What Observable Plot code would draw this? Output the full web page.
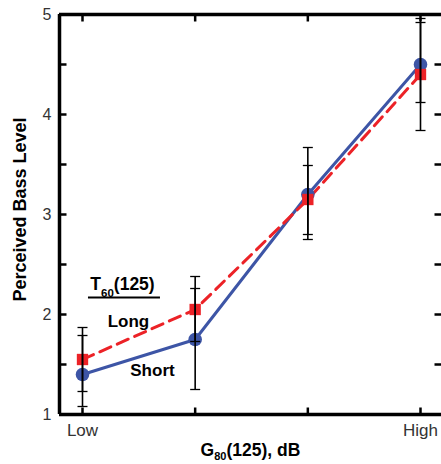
<!DOCTYPE html>
<html><head><meta charset="utf-8">
<script src="https://cdn.jsdelivr.net/npm/d3@7"></script>
<script src="https://cdn.jsdelivr.net/npm/@observablehq/plot@0.6"></script>
<style>
body{margin:0;background:#fff}
#chart svg{font-family:"Liberation Sans",Arial,Helvetica,sans-serif;}
</style>
</head><body><div id="chart"></div>
<script>
// categories (G80(125) level) and labels
const levels = [1, 2, 3, 4];
const xTickLabels = ["Low", "", "", "High"];
// Short T60(125)
const shortMean = [1.40, 1.75, 3.20, 4.50];
const shortLo   = [1.08, 1.25, 2.75, 4.12];
const shortHi   = [1.79, 2.26, 3.67, 4.92];
// Long T60(125)
const longMean = [1.55, 2.05, 3.15, 4.40];
const longLo   = [1.23, 1.73, 2.80, 3.84];
const longHi   = [1.87, 2.38, 3.49, 4.96];
// y ticks
const yMinorTicks = [1, 1.5, 2, 2.5, 3, 3.5, 4, 4.5, 5];
const yTickLabels = [1, 2, 3, 4, 5];

const shortData = levels.map((x, i) => ({x, y: shortMean[i], lo: shortLo[i], hi: shortHi[i]}));
const longData = levels.map((x, i) => ({x, y: longMean[i], lo: longLo[i], hi: longHi[i]}));
const errData = [...shortData, ...longData];
const caps = errData.flatMap(d => [{x: d.x, y: d.lo}, {x: d.x, y: d.hi}]);

const xmin = 1 - 23 / 112.67, xmax = 4 + 21 / 112.67;
const blue = "#3d55a6", red = "#ec2227";

const tickSym = (dx, dy) => ({draw(ctx, size) { const l = Math.sqrt(size / Math.PI); ctx.moveTo(0, 0); ctx.lineTo(dx * l, dy * l); }});
const capSym = {draw(ctx, size) { const l = Math.sqrt(size / Math.PI); ctx.moveTo(-l, 0); ctx.lineTo(l, 0); }};

const chart = Plot.plot({
  width: 441, height: 464,
  marginLeft: 59, marginRight: 0, marginTop: 14, marginBottom: 50,
  x: {domain: [xmin, xmax], label: null},
  y: {domain: [1, 5], label: null},
  style: {background: "white", fontFamily: "Liberation Sans, Arial, sans-serif"},
  marks: [
    Plot.axisY(yTickLabels, {tickSize: 0, tickPadding: 8, fontSize: 16, color: "#333", label: null,
      tickFormat: d => String(d)}),
    Plot.axisX(levels, {tickSize: 0, tickPadding: 9, fontSize: 17, color: "#333", label: null,
      tickFormat: d => xTickLabels[levels.indexOf(d)]}),
    // inward ticks
    Plot.dot(yMinorTicks, {x: xmin, y: d => d, r: 7, symbol: tickSym(1, 0), fill: "none", stroke: "black", strokeWidth: 2.5}),
    Plot.dot(yMinorTicks, {x: xmax, y: d => d, r: 7, symbol: tickSym(-1, 0), fill: "none", stroke: "black", strokeWidth: 2.5}),
    Plot.dot(levels, {x: d => d, y: 1, r: 7, symbol: tickSym(0, -1), fill: "none", stroke: "black", strokeWidth: 2.5}),
    Plot.dot(levels, {x: d => d, y: 5, r: 7, symbol: tickSym(0, 1), fill: "none", stroke: "black", strokeWidth: 2.5}),
    // frame
    Plot.ruleX([xmin], {stroke: "black", strokeWidth: 3.5}),
    Plot.ruleY([1, 5], {stroke: "black", strokeWidth: 3.5}),
    // series lines
    Plot.line(shortData, {x: "x", y: "y", stroke: blue, strokeWidth: 3}),
    Plot.line(longData, {x: "x", y: "y", stroke: red, strokeWidth: 3, strokeDasharray: "12,7"}),
    Plot.dot(shortData, {x: "x", y: "y", r: 6.8, fill: blue, stroke: "none"}),
    Plot.dot(longData, {x: "x", y: "y", r: 6.4, symbol: "square", fill: red, stroke: "none"}),
    // error bars
    Plot.ruleX(errData, {x: "x", y1: "lo", y2: "hi", stroke: "black", strokeWidth: 1.6}),
    Plot.dot(caps, {x: "x", y: "y", r: 5, symbol: capSym, fill: "none", stroke: "black", strokeWidth: 1.3}),
    // annotation legend
    Plot.text(["T60(125)"], {x: 1.355, y: 2.304, fontSize: 17.5, fontWeight: "bold", fill: "black"}),
    Plot.ruleY([2.17], {x1: 1.053, x2: 1.692, stroke: "black", strokeWidth: 2}),
    Plot.text(["Long"], {x: 1.408, y: 1.934, fontSize: 17, fontWeight: "bold", fill: "black"}),
    Plot.text(["Short"], {x: 1.621, y: 1.444, fontSize: 17, fontWeight: "bold", fill: "black"}),
    // axis titles
    Plot.text(["Perceived Bass Level"], {frameAnchor: "left", textAnchor: "middle", lineAnchor: "middle", rotate: -90, dx: -39.5, dy: -5, fontSize: 18, fontWeight: "bold", fill: "black"}),
    Plot.text(["G80(125), dB"], {frameAnchor: "bottom", lineAnchor: "bottom", dy: 41, fontSize: 17.5, fontWeight: "bold", fill: "black"})
  ]
});
document.getElementById("chart").appendChild(chart);

function subscriptify(svg, full, pre, sub, post, subSize, shift) {
  const ns = "http://www.w3.org/2000/svg";
  for (const t of svg.querySelectorAll("text")) {
    if (t.textContent === full) {
      t.textContent = "";
      const a = document.createElementNS(ns, "tspan"); a.textContent = pre; t.appendChild(a);
      const b = document.createElementNS(ns, "tspan"); b.textContent = sub;
      b.setAttribute("font-size", subSize); b.setAttribute("dy", shift); t.appendChild(b);
      const c = document.createElementNS(ns, "tspan"); c.textContent = post;
      c.setAttribute("dy", -shift); t.appendChild(c);
    }
  }
}
subscriptify(chart, "T60(125)", "T", "60", "(125)", 11.5, 7);
subscriptify(chart, "G80(125), dB", "G", "80", "(125), dB", 11, 4);
</script>
</body></html>
